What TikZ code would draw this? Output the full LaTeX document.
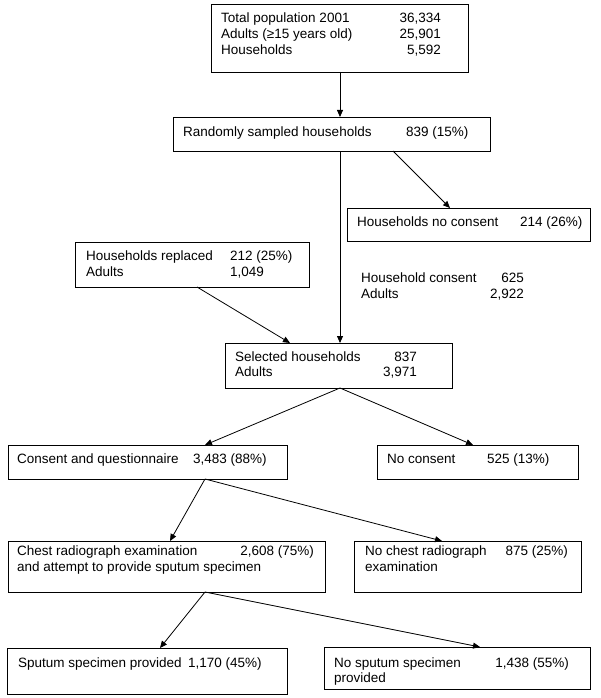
\documentclass[tikz,border=0pt]{standalone}
\usepackage{fontspec}
\setmainfont{Liberation Sans}
\usetikzlibrary{arrows.meta}
\begin{document}
\begin{tikzpicture}[x=1pt,y=-1pt,
  box/.style={draw, line width=0.8pt, anchor=north west, inner sep=0pt, outer sep=0pt},
  txt/.style={anchor=base west, inner sep=0pt, font=\fontsize{13.5}{16}\selectfont},
  num/.style={anchor=base east, inner sep=0pt, font=\fontsize{13.5}{16}\selectfont},
  arr/.style={line width=0.8pt, -{Triangle[length=7pt,width=6pt]}}]
\useasboundingbox[fill=white] (0,0) rectangle (600,698);
% boxes
\node[box, minimum width=257pt, minimum height=68pt] (b1) at (211,4) {};
\node[box, minimum width=317pt, minimum height=34pt] (b2) at (173,117) {};
\node[box, minimum width=243pt, minimum height=33pt] (b3) at (347,208) {};
\node[box, minimum width=234pt, minimum height=45pt] (b4) at (75,242) {};
\node[box, minimum width=227pt, minimum height=45pt] (b5) at (225,343) {};
\node[box, minimum width=279pt, minimum height=34pt] (b6) at (8,445) {};
\node[box, minimum width=201pt, minimum height=34pt] (b7) at (377,445) {};
\node[box, minimum width=317pt, minimum height=51pt] (b8) at (8,541) {};
\node[box, minimum width=227pt, minimum height=51pt] (b9) at (354,541) {};
\node[box, minimum width=280pt, minimum height=46pt] (b10) at (7,648) {};
\node[box, minimum width=266pt, minimum height=42pt] (b11) at (324,647) {};
% texts
\node[txt] (t1a) at (221,22.5) {Total population 2001};
\node[num] (n1a) at (441,22.5) {36,334};
\node[txt] (t1b) at (221,38.5) {Adults (≥15 years old)};
\node[num] (n1b) at (441,38.5) {25,901};
\node[txt] (t1c) at (221,54.5) {Households};
\node[num] (n1c) at (441,54.5) {5,592};
\node[txt] (t2a) at (183,136) {Randomly sampled households};
\node[txt] (n2a) at (406,136) {839 (15\%)};
\node[txt] (t3a) at (357,226) {Households no consent};
\node[txt] (n3a) at (520,226) {214 (26\%)};
\node[txt] (t4a) at (86,260) {Households replaced};
\node[txt] (n4a) at (230,260) {212 (25\%)};
\node[txt] (t4b) at (86,276) {Adults};
\node[txt] (n4b) at (230,276) {1,049};
\node[txt] (tfa) at (361,282) {Household consent};
\node[num] (nfa) at (524,282) {625};
\node[txt] (tfb) at (361,298) {Adults};
\node[num] (nfb) at (524,298) {2,922};
\node[txt] (t5a) at (235,361) {Selected households};
\node[num] (n5a) at (417,361) {837};
\node[txt] (t5b) at (235,376) {Adults};
\node[num] (n5b) at (417,376) {3,971};
\node[txt] (t6a) at (17,463) {Consent and questionnaire};
\node[txt] (n6a) at (193,463) {3,483 (88\%)};
\node[txt] (t7a) at (387,463) {No consent};
\node[txt] (n7a) at (487,463) {525 (13\%)};
\node[txt] (t8a) at (17,555) {Chest radiograph examination};
\node[num] (n8a) at (314,555) {2,608 (75\%)};
\node[txt] (t8b) at (17,571) {and attempt to provide sputum specimen};
\node[txt] (t9a) at (365,555) {No chest radiograph};
\node[num] (n9a) at (568,555) {875 (25\%)};
\node[txt] (t9b) at (365,571) {examination};
\node[txt] (t10a) at (18,667) {Sputum specimen provided};
\node[txt] (n10a) at (188,667) {1,170 (45\%)};
\node[txt] (t11a) at (334,667) {No sputum specimen};
\node[num] (n11a) at (569,667) {1,438 (55\%)};
\node[txt] (t11b) at (334,682) {provided};
% connectors
\draw[arr] ([xshift=129pt]b1.south west) -- ([xshift=167pt]b2.north west);
\draw[arr] ([xshift=220pt]b2.south west) -- ([xshift=103pt]b3.north west);
\draw[arr] ([xshift=167pt]b2.south west) -- ([xshift=115pt]b5.north west);
\draw[arr] ([xshift=122pt]b4.south west) -- ([xshift=65pt]b5.north west);
\draw[arr] ([xshift=115pt]b5.south west) -- ([xshift=197pt]b6.north west);
\draw[arr] ([xshift=115pt]b5.south west) -- ([xshift=96pt]b7.north west);
\draw[arr] ([xshift=197pt]b6.south west) -- ([xshift=162pt]b8.north west);
\draw[arr] ([xshift=197pt]b6.south west) -- ([xshift=88pt]b9.north west);
\draw[arr] ([xshift=197pt]b8.south west) -- ([xshift=153pt]b10.north west);
\draw[arr] ([xshift=197pt]b8.south west) -- ([xshift=156pt]b11.north west);
\end{tikzpicture}
\end{document}
